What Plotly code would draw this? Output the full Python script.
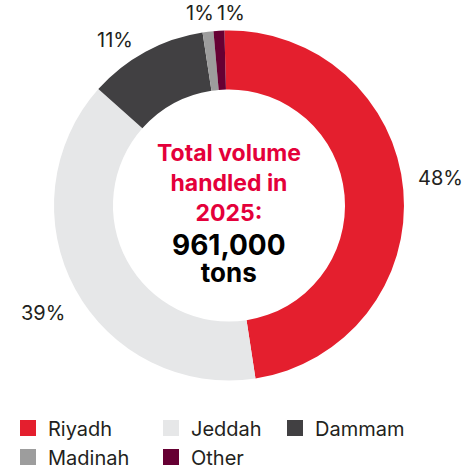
import math
import plotly.graph_objects as go

# Share of total handled volume by station (percent)
stations = ["Riyadh", "Jeddah", "Dammam", "Madinah", "Other"]
shares = [48, 39, 11, 1, 1]
total_tons = 961000
center_title = "Total volume<br>handled in<br>2025:"
unit = "tons"

# Styling
colors = ["#E41F2E", "#E6E7E8", "#414042", "#9D9D9D", "#660033"]
legend_column = [1, 2, 3, 1, 2]
legend_left_px = {1: 8, 2: 151, 3: 275}
label_shift_deg = [-2.3, -1.5, -6.1, -1.7, 3.9]
label_radius_px = [213, 215, 201, 195, 193]

W, H = 470, 469
FONT = "Inter"
TEXT_DARK = "#231F20"
TITLE_RED = "#E4003A"

# Pie geometry in pixels
cx, cy, radius = 229, 205.5, 175
rotation = -1.5
hole = 0.663


def px_x(x):
    return x / W


def px_y(y):
    return 1 - y / H


fig = go.Figure()

fig.add_trace(go.Pie(
    labels=stations,
    values=shares,
    hole=hole,
    sort=False,
    direction="clockwise",
    rotation=rotation,
    marker=dict(colors=colors, line=dict(width=0)),
    textinfo="none",
    hoverinfo="label+percent",
    showlegend=False,
    domain=dict(x=[px_x(cx - radius), px_x(cx + radius)],
                y=[px_y(cy + radius), px_y(cy - radius)]),
))

# Legend entries, one legend per column
for name, col, c in zip(stations, legend_column, colors):
    fig.add_trace(go.Scatter(
        x=[None], y=[None], mode="markers", name=name,
        marker=dict(symbol="square", size=16, color=c),
        legend="legend" if col == 1 else f"legend{col}",
        hoverinfo="skip",
    ))

# Percentage labels around the ring
total = sum(shares)
start = rotation
annotations = []
for i, v in enumerate(shares):
    span = 360 * v / total
    mid = start + span / 2 + label_shift_deg[i]
    start += span
    a = math.radians(mid)
    lx = cx + label_radius_px[i] * math.sin(a)
    ly = cy - label_radius_px[i] * math.cos(a)
    annotations.append(dict(
        x=px_x(lx), y=px_y(ly), xref="paper", yref="paper",
        text=f"{v / total:.0%}", showarrow=False,
        xanchor="center", yanchor="middle",
        font=dict(family=FONT, size=20, color=TEXT_DARK),
    ))

# Centre text
annotations += [
    dict(x=px_x(cx), y=px_y(183), xref="paper", yref="paper",
         text=center_title, showarrow=False, xanchor="center", yanchor="middle",
         font=dict(family=FONT, size=23, color=TITLE_RED, weight=700)),
    dict(x=px_x(cx), y=px_y(258), xref="paper", yref="paper",
         text=(f"<span style='font-size:28px'>{total_tons:,}</span><br>"
               f"<span style='font-size:26px'>{unit}</span>"),
         showarrow=False, xanchor="center", yanchor="middle",
         font=dict(family=FONT, size=20.5, color="#000000", weight=700)),
]

legend_style = dict(
    orientation="v", yanchor="top", y=px_y(408.5), xanchor="left",
    font=dict(family=FONT, size=20, color=TEXT_DARK),
    bgcolor="rgba(0,0,0,0)", borderwidth=0,
)

fig.update_layout(
    width=W, height=H,
    margin=dict(l=0, r=0, t=0, b=0, autoexpand=False),
    paper_bgcolor="white", plot_bgcolor="white",
    xaxis=dict(visible=False), yaxis=dict(visible=False),
    annotations=annotations,
    legend=dict(x=px_x(legend_left_px[1]), **legend_style),
    legend2=dict(x=px_x(legend_left_px[2]), **legend_style),
    legend3=dict(x=px_x(legend_left_px[3]), **legend_style),
)

fig.write_html("out.html")
